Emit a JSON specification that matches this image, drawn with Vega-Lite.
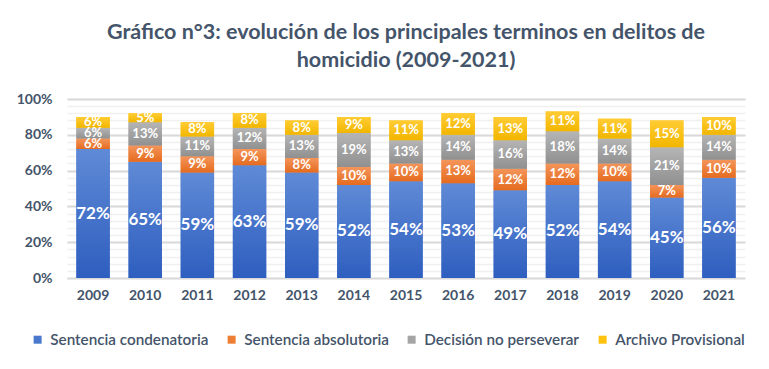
{
  "$schema": "https://vega.github.io/schema/vega-lite/v6.json",
  "autosize": "none",
  "width": 678,
  "height": 179,
  "padding": {"left": 67, "top": 99, "right": 24, "bottom": 91},
  "background": "white",
  "config": {
    "font": "Lato",
    "view": {"stroke": null},
    "axis": {"labelFont": "Lato", "labelColor": "#44546a", "labelFontWeight": "bold", "labelFontSize": 14}
  },
  "title": {
    "text": ["Gráfico n°3: evolución de los principales terminos en delitos de", "homicidio (2009-2021)"],
    "font": "Lato",
    "fontSize": 21.5,
    "fontWeight": "bold",
    "color": "#44546a",
    "lineHeight": 28,
    "offset": 21,
    "anchor": "middle"
  },
  "data": {
    "values": [
      {"year": "2009", "cat": "Sentencia condenatoria", "ord": 1, "value": 72},
      {"year": "2009", "cat": "Sentencia absolutoria", "ord": 2, "value": 6},
      {"year": "2009", "cat": "Decisión no perseverar", "ord": 3, "value": 6},
      {"year": "2009", "cat": "Archivo Provisional", "ord": 4, "value": 6},
      {"year": "2010", "cat": "Sentencia condenatoria", "ord": 1, "value": 65},
      {"year": "2010", "cat": "Sentencia absolutoria", "ord": 2, "value": 9},
      {"year": "2010", "cat": "Decisión no perseverar", "ord": 3, "value": 13},
      {"year": "2010", "cat": "Archivo Provisional", "ord": 4, "value": 5},
      {"year": "2011", "cat": "Sentencia condenatoria", "ord": 1, "value": 59},
      {"year": "2011", "cat": "Sentencia absolutoria", "ord": 2, "value": 9},
      {"year": "2011", "cat": "Decisión no perseverar", "ord": 3, "value": 11},
      {"year": "2011", "cat": "Archivo Provisional", "ord": 4, "value": 8},
      {"year": "2012", "cat": "Sentencia condenatoria", "ord": 1, "value": 63},
      {"year": "2012", "cat": "Sentencia absolutoria", "ord": 2, "value": 9},
      {"year": "2012", "cat": "Decisión no perseverar", "ord": 3, "value": 12},
      {"year": "2012", "cat": "Archivo Provisional", "ord": 4, "value": 8},
      {"year": "2013", "cat": "Sentencia condenatoria", "ord": 1, "value": 59},
      {"year": "2013", "cat": "Sentencia absolutoria", "ord": 2, "value": 8},
      {"year": "2013", "cat": "Decisión no perseverar", "ord": 3, "value": 13},
      {"year": "2013", "cat": "Archivo Provisional", "ord": 4, "value": 8},
      {"year": "2014", "cat": "Sentencia condenatoria", "ord": 1, "value": 52},
      {"year": "2014", "cat": "Sentencia absolutoria", "ord": 2, "value": 10},
      {"year": "2014", "cat": "Decisión no perseverar", "ord": 3, "value": 19},
      {"year": "2014", "cat": "Archivo Provisional", "ord": 4, "value": 9},
      {"year": "2015", "cat": "Sentencia condenatoria", "ord": 1, "value": 54},
      {"year": "2015", "cat": "Sentencia absolutoria", "ord": 2, "value": 10},
      {"year": "2015", "cat": "Decisión no perseverar", "ord": 3, "value": 13},
      {"year": "2015", "cat": "Archivo Provisional", "ord": 4, "value": 11},
      {"year": "2016", "cat": "Sentencia condenatoria", "ord": 1, "value": 53},
      {"year": "2016", "cat": "Sentencia absolutoria", "ord": 2, "value": 13},
      {"year": "2016", "cat": "Decisión no perseverar", "ord": 3, "value": 14},
      {"year": "2016", "cat": "Archivo Provisional", "ord": 4, "value": 12},
      {"year": "2017", "cat": "Sentencia condenatoria", "ord": 1, "value": 49},
      {"year": "2017", "cat": "Sentencia absolutoria", "ord": 2, "value": 12},
      {"year": "2017", "cat": "Decisión no perseverar", "ord": 3, "value": 16},
      {"year": "2017", "cat": "Archivo Provisional", "ord": 4, "value": 13},
      {"year": "2018", "cat": "Sentencia condenatoria", "ord": 1, "value": 52},
      {"year": "2018", "cat": "Sentencia absolutoria", "ord": 2, "value": 12},
      {"year": "2018", "cat": "Decisión no perseverar", "ord": 3, "value": 18},
      {"year": "2018", "cat": "Archivo Provisional", "ord": 4, "value": 11},
      {"year": "2019", "cat": "Sentencia condenatoria", "ord": 1, "value": 54},
      {"year": "2019", "cat": "Sentencia absolutoria", "ord": 2, "value": 10},
      {"year": "2019", "cat": "Decisión no perseverar", "ord": 3, "value": 14},
      {"year": "2019", "cat": "Archivo Provisional", "ord": 4, "value": 11},
      {"year": "2020", "cat": "Sentencia condenatoria", "ord": 1, "value": 45},
      {"year": "2020", "cat": "Sentencia absolutoria", "ord": 2, "value": 7},
      {"year": "2020", "cat": "Decisión no perseverar", "ord": 3, "value": 21},
      {"year": "2020", "cat": "Archivo Provisional", "ord": 4, "value": 15},
      {"year": "2021", "cat": "Sentencia condenatoria", "ord": 1, "value": 56},
      {"year": "2021", "cat": "Sentencia absolutoria", "ord": 2, "value": 10},
      {"year": "2021", "cat": "Decisión no perseverar", "ord": 3, "value": 14},
      {"year": "2021", "cat": "Archivo Provisional", "ord": 4, "value": 10}
    ]
  },
  "transform": [
    {"stack": "value", "groupby": ["year"], "sort": [{"field": "ord", "order": "ascending"}], "as": ["y0", "y1"]},
    {"calculate": "(datum.y0 + datum.y1) / 2", "as": "ymid"},
    {"calculate": "datum.value + '%'", "as": "lab"}
  ],
  "encoding": {
    "x": {
      "field": "year", "type": "nominal", "title": null,
      "scale": {"paddingInner": 0.36, "paddingOuter": 0.18},
      "axis": {"labelAngle": 0, "domain": false, "ticks": false, "labelPadding": 10}
    }
  },
  "layer": [
    {
      "mark": {"type": "bar"},
      "encoding": {
        "y": {
          "field": "y0", "type": "quantitative", "title": null,
          "scale": {"domain": [0, 100]},
          "axis": {"values": [0,4,8,12,16,20,24,28,32,36,40,44,48,52,56,60,64,68,72,76,80,84,88,92,96,100], "labels": false, "domain": false, "ticks": false, "grid": true, "gridColor": "#f0f0f0", "gridWidth": 1.5, "title": null}
        },
        "y2": {"field": "y1"},
        "color": {
          "field": "cat", "type": "nominal",
          "scale": {
            "domain": ["Sentencia condenatoria", "Sentencia absolutoria", "Decisión no perseverar", "Archivo Provisional"],
            "range": ["#4a78cc", "#ee7e33", "#a5a5a5", "#ffc20e"]
          },
          "legend": {
            "title": null, "orient": "none", "direction": "horizontal", "legendX": -37, "legendY": 233,
            "symbolType": "square", "symbolSize": 64, "symbolStrokeWidth": 0,
            "labelFont": "Lato", "labelFontSize": 15.25, "labelColor": "#44546a", "labelFontWeight": 600,
            "labelLimit": 300, "columnPadding": 15, "labelOffset": 5
          }
        }
      }
    },
    {
      "transform": [{"filter": "datum.ord === 1"}],
      "mark": {"type": "bar", "color": {"gradient": "linear", "x1": 0, "y1": 0, "x2": 0, "y2": 1, "stops": [{"offset": 0, "color": "#5f8ad6"}, {"offset": 1, "color": "#2e5ebf"}]}},
      "encoding": {"y": {"field": "y0", "type": "quantitative", "axis": null}, "y2": {"field": "y1"}}
    },
    {
      "transform": [{"filter": "datum.ord === 2"}],
      "mark": {"type": "bar", "color": {"gradient": "linear", "x1": 0, "y1": 0, "x2": 0, "y2": 1, "stops": [{"offset": 0, "color": "#f4955a"}, {"offset": 1, "color": "#e56b1f"}]}},
      "encoding": {"y": {"field": "y0", "type": "quantitative", "axis": null}, "y2": {"field": "y1"}}
    },
    {
      "transform": [{"filter": "datum.ord === 3"}],
      "mark": {"type": "bar", "color": {"gradient": "linear", "x1": 0, "y1": 0, "x2": 0, "y2": 1, "stops": [{"offset": 0, "color": "#b5b5b5"}, {"offset": 1, "color": "#909090"}]}},
      "encoding": {"y": {"field": "y0", "type": "quantitative", "axis": null}, "y2": {"field": "y1"}}
    },
    {
      "transform": [{"filter": "datum.ord === 4"}],
      "mark": {"type": "bar", "color": {"gradient": "linear", "x1": 0, "y1": 0, "x2": 0, "y2": 1, "stops": [{"offset": 0, "color": "#ffcc33"}, {"offset": 1, "color": "#f2b600"}]}},
      "encoding": {"y": {"field": "y0", "type": "quantitative", "axis": null}, "y2": {"field": "y1"}}
    },
    {
      "mark": {"type": "text", "fontWeight": "bold", "color": "white", "baseline": "middle", "align": "center"},
      "encoding": {
        "y": {
          "field": "ymid", "type": "quantitative", "title": null,
          "axis": {"values": [0, 20, 40, 60, 80, 100], "labelExpr": "datum.value + '%'", "domain": false, "ticks": false, "grid": true, "gridColor": "#d9d9d9", "gridWidth": 2, "labelPadding": 15, "orient": "left", "title": null}
        },
        "text": {"field": "lab", "type": "nominal"},
        "size": {"condition": {"test": "datum.ord === 1", "value": 17}, "value": 13}
      }
    }
  ],
  "resolve": {"axis": {"y": "independent"}}
}
